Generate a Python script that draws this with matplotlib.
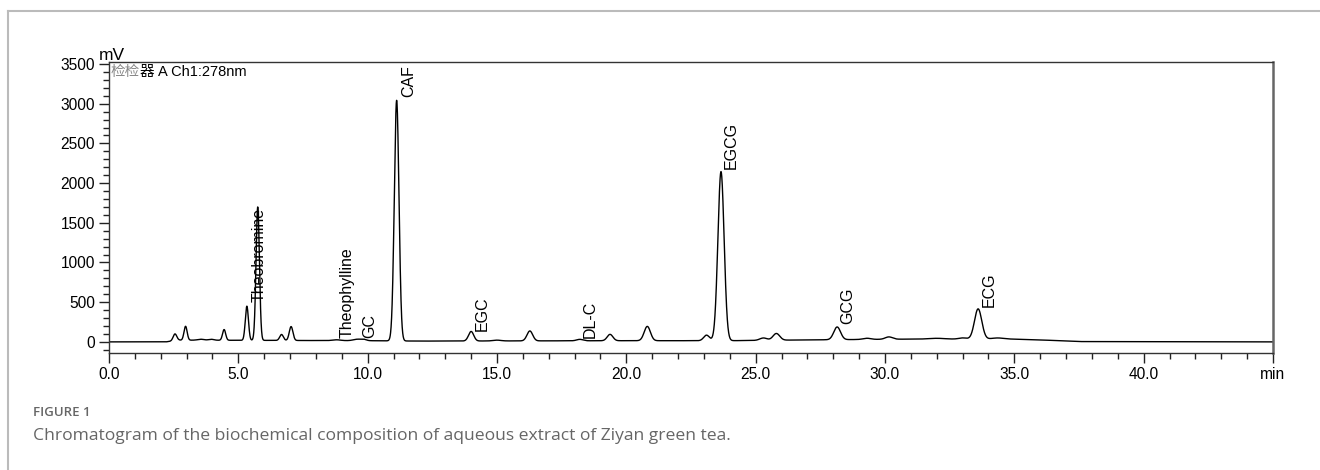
import numpy as np
import matplotlib
matplotlib.use("Agg")
import matplotlib.pyplot as plt
from matplotlib.lines import Line2D
from matplotlib.ticker import MultipleLocator

# ------------------------------------------------------------
# DATA
# ------------------------------------------------------------
# peak retention times (min), heights above baseline (mV), widths (sigma, min)
peak_times = [2.55, 2.96, 3.55, 3.95, 4.45, 5.33, 5.75, 6.67, 7.04, 8.8,
              9.6, 9.85, 11.12, 14.0, 15.0, 16.27, 18.2, 19.37, 20.81, 23.1,
              23.66, 25.3, 25.8, 28.15, 29.3, 30.15, 32.0, 33.0, 33.6, 34.35]
peak_heights = [85, 175, 12, 12, 135, 430, 1680, 75, 175, 10,
                18, 15, 3030, 120, 10, 125, 18, 80, 180, 70,
                2130, 30, 85, 160, 15, 30, 10, 15, 380, 12]
peak_widths = [0.07, 0.06, 0.12, 0.10, 0.06, 0.06, 0.065, 0.07, 0.07, 0.15,
               0.15, 0.10, 0.09, 0.10, 0.15, 0.11, 0.12, 0.11, 0.12, 0.11,
               0.12, 0.14, 0.13, 0.13, 0.15, 0.14, 0.30, 0.15, 0.14, 0.20]

# baseline drift knots
base_t = [0, 2.2, 2.7, 5.0, 10.0, 12.0, 20.0, 24.0, 27.0, 31.0, 33.0, 34.6, 36.0, 37.5, 45.0]
base_v = [0, 0, 22, 20, 15, 10, 15, 15, 25, 35, 35, 38, 25, 4, 0]

# peak labels: name, time, label base (mV)
label_names = ["Theobromine", "Theophylline", "GC", "CAF", "EGC", "DL-C",
               "EGCG", "GCG", "ECG"]
label_times = [5.53, 8.93, 9.8, 11.3, 14.15, 18.3, 23.78, 28.28, 33.73]
label_levels = [500, 50, 50, 3090, 140, 50, 2175, 225, 445]

FONT = ["Liberation Sans", "Noto Sans CJK SC", "DejaVu Sans"]
CAPTION_FONT = ["Open Sans", "DejaVu Sans"]
plt.rcParams["font.family"] = FONT


def build_trace():
    t = np.linspace(0, 45, 9001)
    v = np.interp(t, base_t, base_v)
    for c, h, s in zip(peak_times, peak_heights, peak_widths):
        v = v + h * np.exp(-0.5 * ((t - c) / s) ** 2)
    return t, v


def main():
    fig = plt.figure(figsize=(13.2, 4.7), dpi=100)
    ax = fig.add_axes([109 / 1320, 1 - 353 / 470, (1273 - 109) / 1320, (353 - 62) / 470])

    t, v = build_trace()
    ax.plot(t, v, color="black", lw=1.0)

    ax.xaxis.set_minor_locator(MultipleLocator(1))
    ax.yaxis.set_major_locator(MultipleLocator(500))
    ax.yaxis.set_minor_locator(MultipleLocator(100))

    ax.tick_params(axis="both", which="major", direction="out", length=7,
                   width=1, color="#222222", pad=3, labelsize=11.2)
    ax.tick_params(axis="both", which="minor", direction="out", length=4,
                   width=1, color="#222222")

    # the 45 tick carries "min" instead of a number
    xticks = np.arange(0, 46, 5)
    xt = [f"{x:.1f}" for x in xticks]
    xt[-1] = "min"
    ax.set_xticks(xticks)
    ax.set_xticklabels(xt)
    ax.set_xlim(0, 45)
    ax.set_ylim(-140, 3525)

    for side in ["left", "top", "bottom"]:
        ax.spines[side].set_color("#333333")
        ax.spines[side].set_linewidth(1.0)
    ax.spines["right"].set_color("#666666")
    ax.spines["right"].set_linewidth(1.8)

    # unit label and detector text
    ax.annotate("mV", xy=(0, 1), xycoords="axes fraction", xytext=(-7, -1),
                textcoords="offset points", ha="left", va="bottom", fontsize=12.5)
    ax.annotate("检检", xy=(0, 1), xycoords="axes fraction", xytext=(1, -2.5),
                textcoords="offset points", ha="left", va="top", fontsize=10.5,
                color="#888888")
    ax.annotate("器 A Ch1:278nm", xy=(0, 1), xycoords="axes fraction", xytext=(22, -2.5),
                textcoords="offset points", ha="left", va="top", fontsize=10.5,
                color="black")

    for name, lt, lv in zip(label_names, label_times, label_levels):
        ax.text(lt, lv, name, rotation=90, ha="left", va="bottom", fontsize=11.5)

    # outer figure frame (top and left lines)
    fig.add_artist(Line2D([8 / 1320, 1], [1 - 11 / 470, 1 - 11 / 470],
                          color="#bbbbbb", lw=1.5, transform=fig.transFigure))
    fig.add_artist(Line2D([8 / 1320, 8 / 1320], [0, 1 - 11 / 470],
                          color="#bbbbbb", lw=1.5, transform=fig.transFigure))

    fig.text(33 / 1320, 1 - 413 / 470, "FIGURE 1", ha="left", va="center",
             fontsize=9.5, color="#666666", fontweight="semibold",
             family=CAPTION_FONT)
    fig.text(33 / 1320, 1 - 436 / 470,
             "Chromatogram of the biochemical composition of aqueous extract of Ziyan green tea.",
             ha="left", va="center", fontsize=12.6, color="#666666",
             family=CAPTION_FONT)

    fig.savefig("out.png", dpi=100)
    plt.close(fig)


if __name__ == "__main__":
    main()
